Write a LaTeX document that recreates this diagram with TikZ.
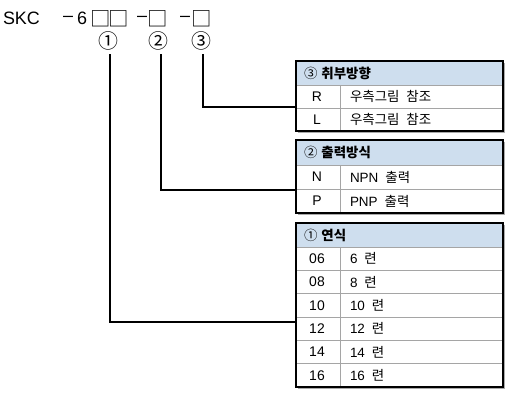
\documentclass[tikz,border=0pt]{standalone}
\usepackage{fontspec}
\setmainfont{Noto Sans CJK KR}
\newfontfamily\lat{Liberation Sans}
\definecolor{hdrblue}{RGB}{206,222,238}
\definecolor{gridgray}{RGB}{165,165,165}
\definecolor{shadowgray}{RGB}{170,170,170}
\begin{document}
\begin{tikzpicture}[x=1bp,y=-1bp,
  every node/.style={inner sep=0pt,outer sep=0pt},
  titletxt/.style={font=\lat\fontsize{18}{18}\selectfont},
  boxtxt/.style={font=\fontsize{20.5}{21}\selectfont},
  circtxt/.style={font=\fontsize{20}{20}\selectfont},
  hdrtxt/.style={anchor=west,font=\fontsize{13.5}{14}\selectfont},
  keytxt/.style={font=\lat\fontsize{14}{14}\selectfont},
  valtxt/.style={anchor=west,font=\fontsize{13.5}{14}\selectfont},
  outerline/.style={draw=black,line width=1.6bp},
  gridline/.style={draw=gridgray,line width=0.9bp},
  conn/.style={draw=black,line width=1.6bp},
  connshadow/.style={draw=shadowgray,line width=1.6bp}
]
\useasboundingbox (0,0) rectangle (508,401);
\fill[white] (0,0) rectangle (508,401);

% title
\node[titletxt,anchor=west] (skc) at (3,18.5) {SKC};
\node[titletxt] (d1) at (68,18.5) {–};
\node[titletxt] (six) at (82,18.5) {6};
\node[boxtxt] (b1) at (110,19) {□\kern-2.5bp□};
\node[titletxt] (d2) at (142,18.5) {–};
\node[boxtxt] (b2) at (157.5,19) {□};
\node[titletxt] (d3) at (185,18.5) {–};
\node[boxtxt] (b3) at (201.5,19) {□};

\node[circtxt] (n1) at (108,41) {①};
\node[circtxt] (n2) at (158,41) {②};
\node[circtxt] (n3) at (201,41) {③};

% ---------- table 3 ----------
\fill[shadowgray] (297.5,62.5) rectangle (504.5,132.5);
\fill[white] (296,61) rectangle (503,131);
\fill[hdrblue] (296,61) rectangle (503,85);
\draw[gridline] (296,85) -- (503,85);
\draw[gridline] (296,108) -- (503,108);
\draw[gridline] (340,85) -- (340,131);
\draw[outerline] (296,61) rectangle (503,131);
\node[hdrtxt] (h3) at (304,73) {③\hspace{4bp}\bfseries 취부방향};
\node[keytxt] (k3a) at (317,96.5) {R};
\node[valtxt] (v3a) at (350,96.5) {우측그림\hspace{7bp}참조};
\node[keytxt] (k3b) at (317,119.5) {L};
\node[valtxt] (v3b) at (350,119.5) {우측그림\hspace{7bp}참조};

% ---------- table 2 ----------
\fill[shadowgray] (297.5,141.5) rectangle (504.5,214.5);
\fill[white] (296,140) rectangle (503,213);
\fill[hdrblue] (296,140) rectangle (503,165);
\draw[gridline] (296,165) -- (503,165);
\draw[gridline] (296,189) -- (503,189);
\draw[gridline] (340,165) -- (340,213);
\draw[outerline] (296,140) rectangle (503,213);
\node[hdrtxt] (h2) at (304,152.5) {②\hspace{4bp}\bfseries 출력방식};
\node[keytxt] (k2a) at (317,177) {N};
\node[valtxt] (v2a) at (350,177) {{\lat NPN}\hspace{7bp}출력};
\node[keytxt] (k2b) at (317,201) {P};
\node[valtxt] (v2b) at (350,201) {{\lat PNP}\hspace{7bp}출력};

% ---------- table 1 ----------
\fill[shadowgray] (297.5,224.5) rectangle (504.5,388.5);
\fill[white] (296,223) rectangle (503,387);
\fill[hdrblue] (296,223) rectangle (503,247);
\foreach \yy in {247,270.3,293.6,317,340.3,363.6}
  \draw[gridline] (296,\yy) -- (503,\yy);
\draw[gridline] (340,247) -- (340,387);
\draw[outerline] (296,223) rectangle (503,387);
\node[hdrtxt] (h1) at (304,235) {①\hspace{4bp}\bfseries 연식};
\node[keytxt] (k1a) at (317,258.7) {06};
\node[valtxt] (v1a) at (350,258.7) {{\lat 6}\hspace{7bp}련};
\node[keytxt] (k1b) at (317,282) {08};
\node[valtxt] (v1b) at (350,282) {{\lat 8}\hspace{7bp}련};
\node[keytxt] (k1c) at (317,305.3) {10};
\node[valtxt] (v1c) at (350,305.3) {{\lat 10}\hspace{7bp}련};
\node[keytxt] (k1d) at (317,328.7) {12};
\node[valtxt] (v1d) at (350,328.7) {{\lat 12}\hspace{7bp}련};
\node[keytxt] (k1e) at (317,352) {14};
\node[valtxt] (v1e) at (350,352) {{\lat 14}\hspace{7bp}련};
\node[keytxt] (k1f) at (317,375.3) {16};
\node[valtxt] (v1f) at (350,375.3) {{\lat 16}\hspace{7bp}련};

% ---------- connectors ----------
\coordinate (a3) at (295.2,107);
\coordinate (a2) at (295.2,190);
\coordinate (a1) at (295.2,322);
\begin{scope}[shift={(1,1)}]
\draw[connshadow] (n3.south) ++(2,4) |- (a3);
\draw[connshadow] (n2.south) ++(3,4) |- (a2);
\draw[connshadow] (n1.south) ++(2,4) |- (a1);
\end{scope}
\draw[conn] (n3.south) ++(2,4) |- (a3);
\draw[conn] (n2.south) ++(3,4) |- (a2);
\draw[conn] (n1.south) ++(2,4) |- (a1);
\end{tikzpicture}
\end{document}
